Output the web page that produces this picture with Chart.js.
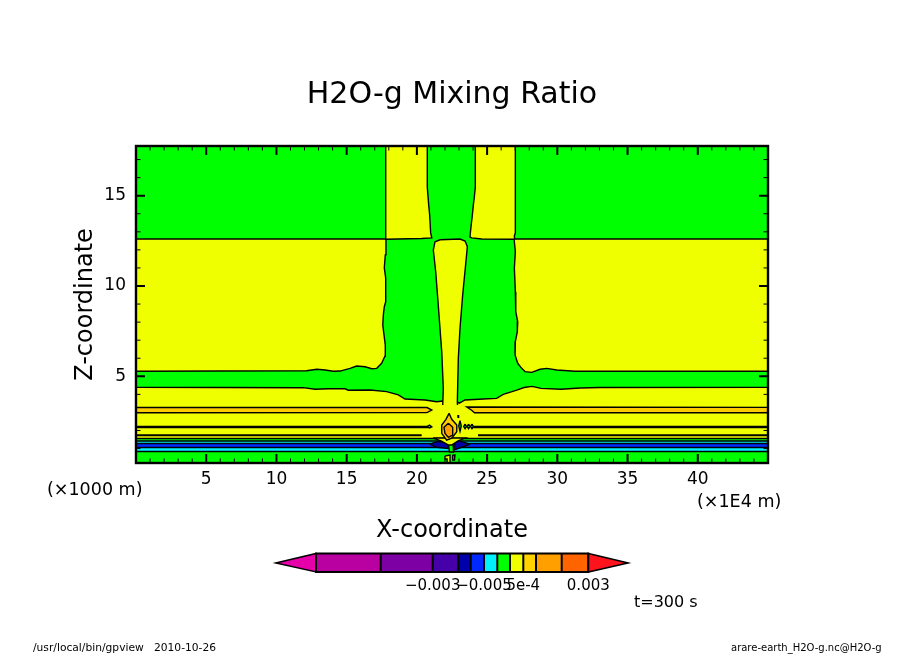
<!DOCTYPE html>
<html>
<head>
<meta charset="utf-8">
<title>H2O-g Mixing Ratio</title>
<script src="https://cdn.jsdelivr.net/npm/chart.js@4"></script>
<style>
  html, body { margin: 0; padding: 0; background: #fff; overflow: hidden; }
  canvas { display: block; }
</style>
</head>
<body>
<canvas id="chart" width="904" height="654"></canvas>
<script>
// axis ticks (x in 1E4 m, z in 1000 m)
const xTicks = [5, 10, 15, 20, 25, 30, 35, 40];
const zTicks = [5, 10, 15];
const xMinor = [1,2,3,4,6,7,8,9,11,12,13,14,16,17,18,19,21,22,23,24,26,27,28,29,31,32,33,34,36,37,38,39,41,42,43,44];
const zMinor = [1,2,3,4,6,7,8,9,11,12,13,14,16,17];

// contour regions, [x, z]
const yellowBase = [[0,17.75],[45,17.75],[45,0.2],[0,0.2],[0,17.75]];
const greenMain = [[0,17.75],[45,17.75],[45,12.6],[26.92,12.6],[27.01,11.9],[26.94,11],[27.01,9.68],[27.04,8.58],[27.18,8.02],[27.15,7.47],[27.01,6.92],[26.99,6.18],[27.18,5.72],[27.46,5.44],[27.7,5.26],[28.18,5.22],[28.77,5.39],[29.24,5.44],[29.96,5.35],[31.26,5.28],[45,5.28],[45,4.39],[33.04,4.38],[31.61,4.35],[30.26,4.28],[28.84,4.33],[28.2,4.44],[27.63,4.38],[27.11,4.23],[26.15,4],[25.68,3.78],[24.73,3.74],[23.43,3.69],[23.02,3.51],[22.86,3.59],[21.84,3.63],[21.41,3.59],[20.58,3.69],[19.15,3.74],[18.68,3.97],[17.85,4.15],[16.66,4.24],[15.12,4.23],[14.88,4.31],[13.69,4.31],[12.75,4.28],[11.91,4.37],[0,4.39],[0,5.28],[12.15,5.31],[12.87,5.39],[13.46,5.35],[14.05,5.28],[14.53,5.29],[15.24,5.44],[15.71,5.57],[16.31,5.53],[16.78,5.42],[17.14,5.44],[17.49,5.72],[17.73,6.12],[17.75,6.73],[17.66,7.29],[17.57,7.84],[17.61,8.39],[17.68,8.85],[17.78,9.13],[17.78,10.44],[17.68,11],[17.75,11.72],[17.8,12.6],[0,12.6],[0,17.75]];
const yellowColLeft = [[17.78,17.75],[20.74,17.75],[20.74,15.48],[20.84,14.49],[20.91,13.93],[20.98,12.94],[21.06,12.66],[20.34,12.63],[17.8,12.59],[17.78,17.75]];
const yellowColRight = [[24.16,17.75],[27.01,17.75],[27.01,12.94],[26.94,12.77],[26.95,12.59],[24.62,12.6],[23.9,12.66],[23.78,12.71],[23.85,13.27],[23.95,13.93],[24.02,14.49],[24.09,14.93],[24.16,15.48],[24.16,17.75]];
const yellowLens = [[21.84,3.41],[21.88,4.34],[21.77,6.36],[21.53,8.85],[21.34,10.79],[21.17,11.99],[21.29,12.45],[21.65,12.56],[23.07,12.6],[23.43,12.49],[23.59,12.18],[23.55,11.81],[23.26,9.5],[23.07,7.66],[22.95,6],[22.88,3.59],[22.89,3.41]];
const amberLeft = [[0,3.28],[20.72,3.27],[21.06,3.13],[20.72,2.99],[0,2.98],[0,3.28]];
const amberRight = [[45,3.28],[23.55,3.3],[23.9,3.12],[24.1,2.98],[45,2.98],[45,3.28]];
const amberThinLeft = [[0,2.22],[20.79,2.22],[20.79,2.16],[0,2.16],[0,2.22]];
const amberThinRight = [[45,2.22],[24,2.22],[24,2.16],[45,2.16],[45,2.22]];
const leafLeft = [[20.72,2.22],[20.9,2.3],[21.06,2.2],[20.9,2.14],[20.72,2.22]];
const leafRight1 = [[23.07,2.55],[23.16,2.25],[23.07,1.95],[22.98,2.25],[23.07,2.55]];
const leafRight2 = [[23.43,2.36],[23.53,2.22],[23.43,2.1],[23.33,2.22],[23.43,2.36]];
const leafRight3 = [[23.68,2.36],[23.78,2.22],[23.68,2.1],[23.58,2.22],[23.68,2.36]];
const leafRight4 = [[23.92,2.36],[24.02,2.22],[23.92,2.1],[23.82,2.22],[23.92,2.36]];
const lineLeft = [[0,1.73],[20.34,1.73]];
const lineRight = [[24.35,1.73],[45,1.73]];
const tickDash = [[22.95,2.86],[22.95,2.69]];
const bandGreenHigh = [[0,1.56],[45,1.56],[45,0.2],[0,0.2],[0,1.56]];
const bandCyanHigh = [[0,1.42],[45,1.42],[45,0.2],[0,0.2],[0,1.42]];
const bandBlue = [[0,1.28],[45,1.28],[45,0.2],[0,0.2],[0,1.28]];
const bandCyanLow = [[0,1.06],[45,1.06],[45,0.2],[0,0.2],[0,1.06]];
const bandGreenLow = [[0,0.84],[45,0.84],[45,0.2],[0,0.2],[0,0.84]];
const navyLeft = [[20.93,1.24],[21.41,1.38],[22.24,1.38],[22.22,1.01],[21.41,1.07],[20.93,1.24]];
const navyRight = [[23.78,1.24],[23.19,1.38],[22.71,1.47],[22.64,0.92],[23.19,1.07],[23.78,1.24]];
const greenColumn = [[22.22,1.42],[22.57,1.42],[22.61,0.81],[22.32,0.81],[22.22,1.42]];
const yellowWedge = [[21.15,1.58],[23.43,1.58],[22.93,1.42],[22.5,1.2],[22.22,1.2],[21.72,1.42],[21.15,1.58]];
const flameOuter = [[22.29,2.95],[22.48,2.62],[22.84,2.3],[22.84,1.93],[22.48,1.57],[22.12,1.47],[21.77,1.84],[21.77,2.3],[22.07,2.62],[22.29,2.95]];
const flameInner = [[22.24,2.4],[22.55,2.18],[22.55,1.75],[22.24,1.62],[22,1.84],[21.93,2.18],[22.24,2.4]];
const footYellowLeft = [[22,0.59],[22.36,0.64],[22.36,0.2],[22.15,0.2],[22.15,0.42],[22,0.42],[22,0.59]];
const footYellowRight = [[22.55,0.64],[22.71,0.64],[22.68,0.37],[22.57,0.37],[22.55,0.64]];

const barLabels = ['−0.003', '−0.005', '5e-4', '0.003'];

const GREEN = '#00ff00', YELLOW = '#f0ff00', AMBER = '#ffcc00', ORANGE = '#ffa000';
const CYAN = '#00f0ff', BLUE = '#0028ff', NAVY = '#0000aa';
const FONT = '"DejaVu Sans"';

// bottom layer first
const layers = [
  [yellowBase, YELLOW],
  [greenMain, GREEN], [yellowColLeft, YELLOW], [yellowColRight, YELLOW], [yellowLens, YELLOW],
  [amberLeft, AMBER], [amberRight, AMBER], [amberThinLeft, AMBER], [amberThinRight, AMBER],
  [leafLeft, GREEN], [leafRight1, GREEN], [leafRight2, GREEN], [leafRight3, GREEN], [leafRight4, GREEN],
  [lineLeft, null], [lineRight, null], [tickDash, null],
  [bandGreenHigh, GREEN], [bandCyanHigh, CYAN], [bandBlue, BLUE], [bandCyanLow, CYAN], [bandGreenLow, GREEN],
  [navyLeft, NAVY], [navyRight, NAVY], [greenColumn, GREEN], [yellowWedge, YELLOW],
  [flameOuter, AMBER], [flameInner, ORANGE],
  [footYellowLeft, YELLOW], [footYellowRight, YELLOW],
];

const datasets = layers.map(([points, color]) => ({
  data: points,
  showLine: true,
  pointRadius: 0,
  borderColor: '#000',
  borderWidth: color ? 1.4 : 2,
  backgroundColor: color || 'transparent',
  fill: color ? 'shape' : false,
})).reverse(); // chart.js paints the first dataset last

const frameTicks = {
  id: 'frameTicks',
  afterDatasetsDraw(chart) {
    const { ctx, chartArea: a, scales: { x, y } } = chart;
    ctx.save();
    ctx.strokeStyle = '#000';
    const mark = (list, len, w) => {
      ctx.lineWidth = w;
      ctx.beginPath();
      list.x.forEach(v => {
        const p = x.getPixelForValue(v);
        ctx.moveTo(p, a.bottom); ctx.lineTo(p, a.bottom - len);
        ctx.moveTo(p, a.top); ctx.lineTo(p, a.top + len);
      });
      list.y.forEach(v => {
        const p = y.getPixelForValue(v);
        ctx.moveTo(a.left, p); ctx.lineTo(a.left + len, p);
        ctx.moveTo(a.right, p); ctx.lineTo(a.right - len, p);
      });
      ctx.stroke();
    };
    mark({ x: xMinor, y: zMinor }, 4.5, 1);
    mark({ x: xTicks, y: zTicks }, 9, 2);
    ctx.lineWidth = 2.4;
    ctx.strokeRect(a.left, a.top, a.right - a.left, a.bottom - a.top);
    ctx.restore();
  }
};

// colour bar and loose captions
const captions = {
  id: 'captions',
  afterDraw(chart) {
    const { ctx } = chart;
    const edges = [316, 380.7, 432.7, 458.3, 470.7, 484, 497.3, 510, 523.3, 536, 561.7, 588.3];
    const colors = ['#b900a0', '#7d00a5', '#4600aa', '#0000aa', '#0028ff', '#00f0ff', '#00ff00', '#f0ff00', '#ffd200', '#ffa000', '#ff6400'];
    const top = 553.5, bottom = 572, mid = 563;
    ctx.save();
    colors.forEach((c, i) => {
      ctx.fillStyle = c;
      ctx.fillRect(edges[i], top, edges[i + 1] - edges[i], bottom - top);
    });
    const arrow = (tip, base, color) => {
      ctx.beginPath();
      ctx.moveTo(tip, mid); ctx.lineTo(base, top); ctx.lineTo(base, bottom); ctx.closePath();
      ctx.fillStyle = color; ctx.fill();
      ctx.lineWidth = 1.4; ctx.strokeStyle = '#000'; ctx.stroke();
    };
    arrow(275.7, 316, '#e600aa');
    arrow(628.3, 588.3, '#ff141e');
    ctx.strokeStyle = '#000';
    ctx.lineWidth = 2;
    ctx.strokeRect(316, top, 588.3 - 316, bottom - top);
    ctx.beginPath();
    edges.slice(1, -1).forEach(e => { ctx.moveTo(e, top); ctx.lineTo(e, bottom); });
    ctx.stroke();

    ctx.fillStyle = '#000';
    ctx.textBaseline = 'middle';
    ctx.font = `15px ${FONT}`;
    ctx.textAlign = 'center';
    [432.7, 484, 523.3, 588.3].forEach((p, i) => ctx.fillText(barLabels[i], p, 586));

    ctx.textAlign = 'left';
    ctx.font = `17.5px ${FONT}`;
    ctx.fillText('(×1000 m)', 47, 490);
    ctx.fillText('(×1E4 m)', 697, 502);
    ctx.font = `16px ${FONT}`;
    ctx.fillText('t=300 s', 634, 603);
    ctx.font = `10.7px ${FONT}`;
    ctx.fillText('/usr/local/bin/gpview   2010-10-26', 33, 648);
    ctx.font = `10px ${FONT}`;
    ctx.fillText('arare-earth_H2O-g.nc@H2O-g', 731, 648);
    ctx.restore();
  }
};

new Chart(document.getElementById('chart'), {
  type: 'scatter',
  data: { datasets },
  plugins: [frameTicks, captions],
  options: {
    responsive: false,
    animation: false,
    plugins: {
      legend: { display: false },
      tooltip: { enabled: false },
      title: {
        display: true,
        text: 'H2O-g Mixing Ratio',
        color: '#000',
        font: { family: FONT, size: 30, weight: 'normal' },
        padding: { top: 77, bottom: 33 },
      },
    },
    scales: {
      x: {
        type: 'linear', min: 0, max: 45,
        grid: { display: false, drawTicks: false },
        border: { display: false },
        ticks: { color: '#000', font: { family: FONT, size: 17 }, padding: 6, maxRotation: 0, autoSkip: false },
        title: { display: true, text: 'X-coordinate', color: '#000', font: { family: FONT, size: 24 }, padding: { top: 0, bottom: 108.6 } },
        afterBuildTicks: s => { s.ticks = xTicks.map(value => ({ value })); },
        afterFit: s => { s.height = 191; },
      },
      y: {
        type: 'linear', min: 0.2, max: 17.75,
        grid: { display: false, drawTicks: false },
        border: { display: false },
        ticks: { color: '#000', font: { family: FONT, size: 17 }, padding: 10, autoSkip: false },
        title: { display: true, text: 'Z-coordinate', color: '#000', font: { family: FONT, size: 24 }, padding: { top: 71.6, bottom: 0 } },
        afterBuildTicks: s => { s.ticks = zTicks.map(value => ({ value })); },
        afterFit: s => { s.width = 136; },
      },
      // empty axis, only keeps the white margin right of the plot
      yRight: {
        type: 'linear', position: 'right', min: 0, max: 1,
        grid: { display: false, drawTicks: false },
        border: { display: false },
        ticks: { display: false },
        afterFit: s => { s.width = 136; },
      },
    },
  },
});
</script>
</body>
</html>
